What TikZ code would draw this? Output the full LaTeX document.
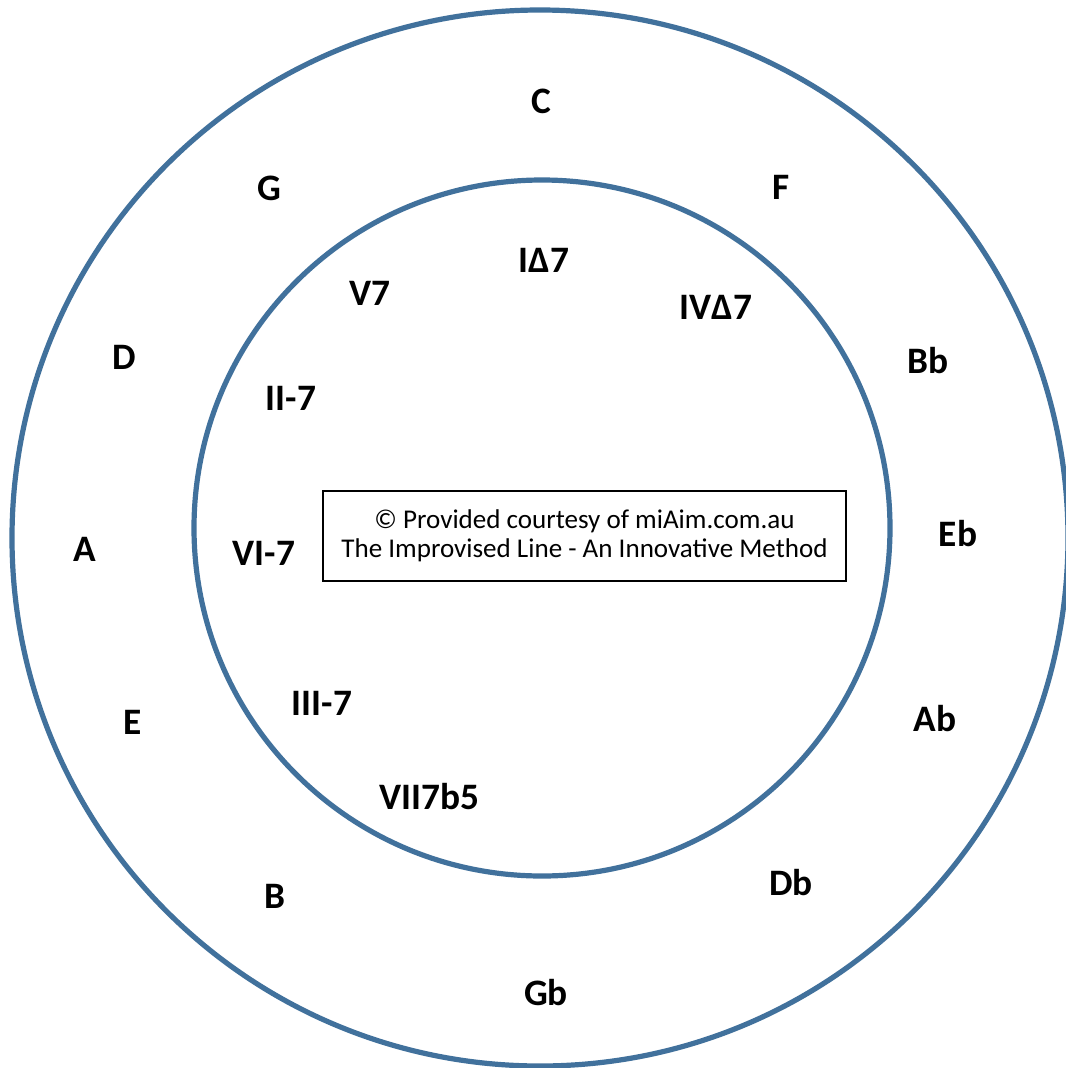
\documentclass[tikz,border=0pt]{standalone}
\usepackage{fontspec}
\setmainfont{Carlito}
\definecolor{ringblue}{HTML}{41719C}
\begin{document}
\begin{tikzpicture}[x=0.75pt,y=-0.75pt,
  ring/.style={draw=ringblue,line width=3.9pt},
  lbl/.style={font=\fontsize{28}{33}\selectfont\bfseries,inner sep=0pt,anchor=center},
  infobox/.style={draw=black,line width=1pt,minimum width=392.25pt,minimum height=67.5pt,
    align=center,font=\fontsize{20.3}{22}\selectfont,inner sep=0pt}]
\useasboundingbox (0,0) rectangle (1066,1068);
\fill[white] (0,0) rectangle (1066,1068);
\draw[ring] (540,538) circle[radius=396pt];
\draw[ring] (542,528) circle[radius=261pt];
% outer keys
\node[lbl] (C)  at (541,101) {C};
\node[lbl] (F)  at (781,187) {F};
\node[lbl] (G)  at (269,188) {G};
\node[lbl] (Bb) at (928,361) {Bb};
\node[lbl] (D)  at (124,357) {D};
\node[lbl] (Eb) at (958,534) {Eb};
\node[lbl] (A)  at (85,549) {A};
\node[lbl] (Ab) at (935,719) {Ab};
\node[lbl] (E)  at (133,722) {E};
\node[lbl] (Db) at (791,883) {Db};
\node[lbl] (B)  at (275,896) {B};
\node[lbl] (Gb) at (546,993) {Gb};
% inner chords
\node[lbl] (I)   at (544,260) {I∆7};
\node[lbl] (IV)  at (716,307) {IV∆7};
\node[lbl] (V)   at (370,293) {V7};
\node[lbl] (II)  at (291,398) {II-7};
\node[lbl] (VI)  at (264,553) {VI-7};
\node[lbl] (III) at (322,703) {III-7};
\node[lbl] (VII) at (429,797) {VII7b5};
% info box
\node[infobox] (info) at (584.5,536) {© Provided courtesy of miAim.com.au\\The Improvised Line - An Innovative Method};
\end{tikzpicture}
\end{document}
